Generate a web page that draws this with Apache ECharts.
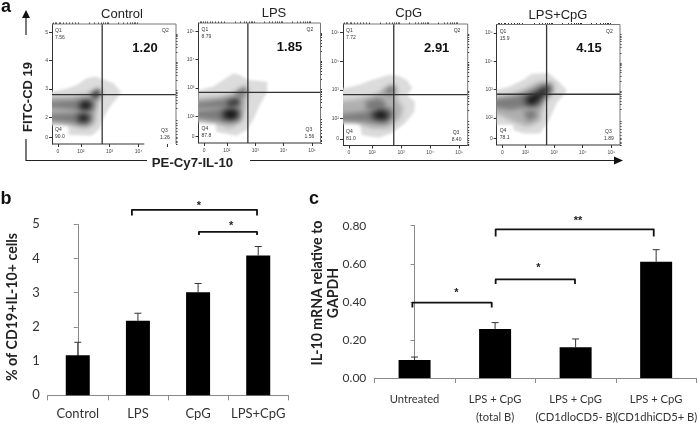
<!DOCTYPE html>
<html><head><meta charset="utf-8">
<style>html,body{margin:0;padding:0;background:#fff}#c{width:700px;height:426px}</style>
<script src="https://cdn.jsdelivr.net/npm/echarts@6/dist/echarts.min.js"></script>
</head><body><div id="c"></div>
<script>
// ---------- panel a: flow plots (log-decade coordinates) ----------
const flowNames = ['Control','LPS','CpG','LPS+CpG'];
const flowQ2 = ['1.20','1.85','2.91','4.15'];
const flowQ1 = ['7.56','8.79','7.72','15.9'];
const flowQ3 = ['1.26','1.56','8.40','1.89'];
const flowQ4 = ['90.0','87.8','81.0','78.1'];
const gateX = [2.74,2.74,2.75,2.74];
const gateY = [2.80,2.84,2.83,2.84];
const xTickPos = [1.2,2,3,4,5];
const yTickPos = [1.28,2,3,4,5];
const xTickText = [
  ['0','10²','10³','10⁴',''],
  ['0','10²','10³','10⁴','10⁵'],
  ['0','10²','10³','10⁴','10⁵'],
  ['0','10²','10³','10⁴','10⁵']];
const yTickText = [
  ['0','2','3','4','5'],
  ['0','10²','10³','10⁴','10⁵'],
  ['0','10²','10³','10⁴','10⁵'],
  ['0','10²','10³','10⁴','10⁵']];
const minorTicks = [1.05,1.1,1.15,1.25,1.3,1.4,1.5,1.6,1.7,1.8,1.9,2.3,2.48,2.6,2.7,2.78,2.85,2.9,2.95,3.3,3.48,3.6,3.7,3.78,3.85,3.9,3.95,4.3,4.48,4.6,4.7,4.78,4.85,4.9,4.95];

const controlOuter = [[0.8,2.85],[1.45,3.0],[1.86,3.14],[2.2,3.38],[2.49,3.44],[2.84,3.32],[3.13,3.2],[3.4,2.88],[3.25,2.67],[3.01,2.37],[2.78,1.96],[2.67,1.6],[2.38,1.34],[1.57,1.37],[1.57,1.72],[0.8,1.72]];
const controlMid = [[0.8,2.73],[1.68,2.73],[2.26,2.85],[2.61,3.02],[2.72,2.85],[2.55,2.31],[2.49,1.78],[2.15,1.58],[1.57,1.75],[0.8,1.84]];
const controlBandA = [[0.8,2.55],[1.91,2.61],[2.44,2.61],[2.44,2.25],[1.91,2.25],[0.8,2.37]];
const controlBandB = [[0.8,2.1],[1.91,2.16],[2.38,2.1],[2.32,1.78],[1.91,1.78],[0.8,1.9]];
const controlTail = [[2.32,2.81],[2.61,3],[2.7,2.85],[2.49,2.61]];
const controlCoreA = [[1.97,2.53],[2.26,2.59],[2.4,2.43],[2.26,2.25],[1.97,2.29]];
const controlCoreB = [[1.91,2.08],[2.2,2.1],[2.32,1.96],[2.15,1.82],[1.91,1.86]];

const lpsOuter = [[0.8,2.87],[1.52,3.05],[1.87,3.28],[2.23,3.52],[2.46,3.46],[2.75,3.28],[3.42,3.22],[3.42,2.85],[3.16,2.4],[2.93,1.87],[2.7,1.51],[2.34,1.31],[1.62,1.45],[1.62,1.78],[0.8,1.78]];
const lpsMid = [[0.8,2.63],[1.76,2.69],[2.23,2.81],[2.64,3.05],[2.72,2.87],[2.64,2.28],[2.52,1.81],[2.11,1.57],[1.62,1.75],[0.8,1.87]];
const lpsBandA = [[0.8,2.46],[1.76,2.58],[2.46,2.69],[2.46,2.34],[1.76,2.3],[0.8,2.28]];
const lpsBandB = [[0.8,2.16],[1.87,2.28],[2.46,2.28],[2.46,1.87],[1.87,1.81],[0.8,1.95]];
const lpsTail = [[2.28,2.81],[2.64,3.05],[2.72,2.87],[2.46,2.63]];
const lpsCoreA = [[2,2.54],[2.4,2.63],[2.44,2.4],[2.05,2.34]];
const lpsCoreB = [[1.87,2.18],[2.23,2.26],[2.44,2.1],[2.28,1.87],[1.87,1.92]];

const cpgOuter = [[0.8,2.99],[1.53,3.17],[1.99,3.34],[2.56,3.52],[2.85,3.52],[3.2,3.34],[3.39,3.05],[3.2,2.82],[3.48,2.58],[3.46,2.23],[3.14,1.83],[2.68,1.48],[2.22,1.32],[1.64,1.42],[1.59,1.83],[0.8,1.83]];
const cpgMid = [[0.8,2.58],[1.64,2.7],[2.1,2.82],[2.62,3.17],[2.85,3.11],[2.85,2.7],[3.08,2.35],[2.97,2],[2.56,1.65],[1.99,1.65],[1.41,1.88],[0.8,1.88]];
const cpgBandA = [[1.76,2.58],[2.22,2.72],[2.45,2.58],[2.45,2.29],[1.82,2.29]];
const cpgBandB = [[0.8,2.12],[1.76,2.23],[2.22,2.35],[2.68,2.35],[2.73,2.06],[2.45,1.83],[1.76,1.88],[0.8,1.94]];
const cpgTail = [[2.39,2.93],[2.68,3.14],[2.82,3.05],[2.68,2.82]];
const cpgCore = [[1.99,2.17],[2.33,2.29],[2.62,2.14],[2.45,1.94],[2.05,2]];

const bothOuter = [[0.8,2.94],[1.47,3.12],[1.93,3.35],[2.22,3.56],[2.8,3.59],[3.15,3.3],[3.46,2.96],[3.09,2.53],[2.8,1.88],[2.51,1.46],[1.93,1.46],[1.58,1.58],[1.58,1.76],[0.8,1.76]];
const bothMid = [[0.8,2.71],[1.47,2.82],[1.93,3],[2.51,3.3],[2.98,3.24],[2.98,2.94],[2.63,2.47],[2.51,1.88],[2.05,1.7],[1.58,1.88],[0.8,2.23]];
const bothLower = [[1.93,2.23],[2.34,2.29],[2.4,2.05],[2.1,1.88]];
const bothBand = [[0.8,2.65],[1.58,2.74],[2.05,2.88],[2.51,3.12],[2.86,3.18],[2.95,3],[2.63,2.7],[2.51,2.41],[1.93,2.37],[1.47,2.29],[0.8,2.41]];
const bothCore = [[1.99,2.7],[2.4,2.88],[2.74,3.12],[2.84,3],[2.51,2.7],[2.34,2.47],[2.05,2.49]];

// ---------- panel b ----------
const bCategories = ['Control','LPS','CpG','LPS+CpG'];
const bValues = [1.17,2.18,3.01,4.09];
const bErrorTops = [1.55,2.40,3.27,4.35];
const bBrackets = [[0.90,2.98,5.42,5.26],[2.015,2.98,4.78,4.69]];
const bStars = [[2.015,5.59,'*'],[2.55,5.01,'*']];

// ---------- panel c ----------
const cCategories = ['Untreated','LPS + CpG\n(total B)','LPS + CpG\n(CD1dloCD5- B)','LPS + CpG\n(CD1dhiCD5+ B)'];
const cValues = [0.095,0.258,0.162,0.611];
const cErrorTops = [0.11,0.291,0.205,0.674];
const cBrackets = [[-0.027,0.958,0.396,0.37],[1.007,1.992,0.518,0.494],[1.007,2.97,0.781,0.743]];
const cStars = [[0.518,0.458,'*'],[1.537,0.587,'*'],[2.03,0.835,'**']];

// ---------- layout ----------
const flowRects = [
  {left:52,top:24,width:124,height:120},
  {left:198.5,top:23,width:122,height:120},
  {left:343,top:24,width:124.7,height:121.5},
  {left:496.7,top:24.5,width:123.3,height:120.5}];
const X_RANGE=[1,5.3], Y_RANGE=[1.05,5.3];
const flowFrameEnd=[4.2,5.3,5.3,5.3];
const L0={fill:'#dcdcdc',blur:3}, L1={fill:'#b0b0b0',blur:5}, L2={fill:'#7c7c7c',blur:5}, L3={fill:'#0c0c0c',blur:6}, L4={fill:'#3c3c3c',blur:5};
const flowShapes = [
  [[controlOuter,L0],[controlMid,L1],[controlBandA,L2],[controlBandB,L2],[controlTail,L4],[controlCoreA,L3],[controlCoreB,L3]],
  [[lpsOuter,L0],[lpsMid,L1],[lpsBandA,L2],[lpsBandB,L2],[lpsTail,L2],[lpsCoreA,L4],[lpsCoreB,L3]],
  [[cpgOuter,L0],[cpgMid,L1],[cpgBandA,L2],[cpgBandB,L2],[cpgTail,L2],[cpgCore,L3]],
  [[bothOuter,L0],[bothMid,L1],[bothLower,L2],[bothBand,L2],[bothCore,L3]]];
const OFF=1500; // shapes are painted off-canvas so that only their soft shadow shows

const SANS='"Liberation Sans",Arial,sans-serif', LATO='Lato,sans-serif';
const grids=[],xAxes=[],yAxes=[],series=[],graphics=[];

flowRects.forEach((r,i)=>{
  grids.push(r);
  const tick={fontSize:5,color:'#444',fontFamily:SANS};
  const mk=(dim,range,pos,text,minors,lineOn)=>[{
    type:'value',gridIndex:i,min:range[0],max:range[1],splitLine:{show:false},
    axisLine:{show:lineOn,lineStyle:{color:'#333',width:1}},
    axisTick:{show:true,length:3,lineStyle:{color:'#333'},customValues:pos},
    axisLabel:Object.assign({show:true,margin:dim==='x'?5:4,customValues:pos,
      formatter:v=>text[pos.indexOf(v)]},tick)
  },{
    type:'value',gridIndex:i,min:range[0],max:range[1],splitLine:{show:false},
    axisLine:{show:false},axisLabel:{show:false},
    axisTick:{show:true,length:1.5,lineStyle:{color:'#333'},customValues:minors}
  }];
  const xa=mk('x',X_RANGE,xTickPos,xTickText[i],minorTicks.filter(v=>v<=flowFrameEnd[i]),false);
  const ya=mk('y',Y_RANGE,yTickPos,yTickText[i],minorTicks,true);
  xAxes.push(...xa); yAxes.push(...ya);
  series.push({
    type:'custom',coordinateSystem:'cartesian2d',xAxisIndex:xAxes.length-2,yAxisIndex:yAxes.length-2,
    silent:true,z:1,data:[[gateX[i],gateY[i]]],
    renderItem(params,api){
      const cs=params.coordSys;
      const polys=flowShapes[i].map(([pts,st])=>({
        type:'polygon',shape:{points:pts.map(p=>{const c=api.coord(p);return [c[0]-OFF,c[1]];})},
        style:{fill:'#000',shadowColor:st.fill,shadowBlur:st.blur,shadowOffsetX:OFF}
      }));
      const seg=(a,b,c,w)=>({type:'polyline',shape:{points:[api.coord(a),api.coord(b)]},style:{stroke:c,lineWidth:w,fill:null}});
      const g=[gateX[i],gateY[i]];
      return {type:'group',children:[
        {type:'group',clipPath:{type:'rect',shape:{x:cs.x,y:cs.y,width:cs.width,height:cs.height}},children:polys},
        seg([g[0],Y_RANGE[0]],[g[0],Y_RANGE[1]],'#333',1.3),
        seg([X_RANGE[0],g[1]],[X_RANGE[1],g[1]],'#333',1.3),
        seg([X_RANGE[0],Y_RANGE[0]],[flowFrameEnd[i],Y_RANGE[0]],'#333',1),
        {type:'polyline',shape:{points:[api.coord([X_RANGE[0],Y_RANGE[1]]),api.coord([X_RANGE[1],Y_RANGE[1]]),api.coord([X_RANGE[1],Y_RANGE[0]])]},style:{stroke:'#777',lineWidth:1,fill:null}}
      ]};
    }
  });
  const T=(x,y,text,style)=>graphics.push({type:'text',x,y,silent:true,style:Object.assign({text,fontFamily:SANS,fill:'#333',fontSize:5,align:'left',verticalAlign:'middle'},style||{})});
  const l=r.left,t=r.top,rt=r.left+r.width,b=r.top+r.height;
  T(l+3,t+7,'Q1'); T(l+3,t+14,flowQ1[i]);
  T(rt-14,t+7,'Q2'); T(rt-15,b-13,'Q3'); T(rt-16,b-6,flowQ3[i]);
  T(l+3,b-14,'Q4'); T(l+3,b-7,flowQ4[i]);
  T(rt-31,t+24,flowQ2[i],{fontSize:13,fontWeight:'bold',fill:'#111',align:'center'});
});
const titleX=[122,274,408.7,558], titleY=[14,13,13,15];
flowNames.forEach((n,i)=>graphics.push({type:'text',x:titleX[i],y:titleY[i],silent:true,style:{text:n,fontFamily:SANS,fontSize:13,fill:'#222',align:'center',verticalAlign:'middle'}}));

// axes decoration of panel a
const stroke={stroke:'#222',lineWidth:1.2,fill:null};
graphics.push(
 {type:'polyline',silent:true,shape:{points:[[26,35],[26,16]]},style:stroke},
 {type:'polygon',silent:true,shape:{points:[[26,10],[22,18],[30,18]]},style:{fill:'#111'}},
 {type:'polyline',silent:true,shape:{points:[[26,139],[26,160.5],[147,160.5]]},style:stroke},
 {type:'polyline',silent:true,shape:{points:[[250,160.5],[616,160.5]]},style:stroke},
 {type:'polygon',silent:true,shape:{points:[[623,160.5],[614,156.5],[614,164.5]]},style:{fill:'#111'}},
 {type:'text',silent:true,x:192.5,y:163.5,style:{text:'PE-Cy7-IL-10',fontFamily:SANS,fontWeight:'bold',fontSize:13.2,fill:'#222',align:'center',verticalAlign:'middle'}},
 {type:'text',silent:true,x:28,y:97,rotation:Math.PI/2,style:{text:'FITC-CD 19',fontFamily:SANS,fontWeight:'bold',fontSize:13,fill:'#222',align:'center',verticalAlign:'middle'}},
 {type:'text',silent:true,x:6,y:7,style:{text:'a',fontFamily:SANS,fontWeight:'bold',fontSize:18,fill:'#111',align:'center',verticalAlign:'middle'}},
 {type:'text',silent:true,x:6,y:199,style:{text:'b',fontFamily:SANS,fontWeight:'bold',fontSize:18,fill:'#111',align:'center',verticalAlign:'middle'}},
 {type:'text',silent:true,x:314,y:199,style:{text:'c',fontFamily:SANS,fontWeight:'bold',fontSize:18,fill:'#111',align:'center',verticalAlign:'middle'}},
 {type:'text',silent:true,x:12,y:307,rotation:Math.PI/2,style:{text:'% of CD19+IL-10+ cells',fontFamily:LATO,fontWeight:'bold',fontSize:14.2,fill:'#222',align:'center',verticalAlign:'middle'}},
 {type:'text',silent:true,x:325,y:293,rotation:Math.PI/2,style:{text:'IL-10 mRNA relative to\nGAPDH',fontFamily:LATO,fontWeight:'bold',fontSize:14.2,lineHeight:16,fill:'#222',align:'center',verticalAlign:'middle'}}
);

// ---------- bar panels ----------
function barPanel(rect,cats,vals,tops,brackets,stars,yMax,yInt,yFmt,barW,capW,catFont,catMargin,yFont){
  const gi=grids.length; grids.push(rect);
  const axisC={lineStyle:{color:'#8a8a8a',width:1}};
  const xi=xAxes.length;
  xAxes.push({type:'category',gridIndex:gi,data:cats,axisLine:{show:true,...axisC},
    axisTick:{show:true,length:5,...axisC},
    axisLabel:{fontFamily:LATO,fontSize:catFont,color:'#333',margin:catMargin,lineHeight:18,interval:0}});
  xAxes.push({type:'value',gridIndex:gi,min:-0.5,max:3.5,show:false,splitLine:{show:false}});
  const yi=yAxes.length;
  yAxes.push({type:'value',gridIndex:gi,min:0,max:yMax,interval:yInt,splitLine:{show:false},
    axisLine:{show:true,...axisC},axisTick:{show:true,length:4,...axisC},
    axisLabel:{fontFamily:LATO,fontSize:yFont,color:'#333',margin:8,formatter:yFmt}});
  series.push({type:'bar',xAxisIndex:xi,yAxisIndex:yi,data:vals,barWidth:barW,itemStyle:{color:'#000'},silent:true,z:3});
  series.push({type:'custom',coordinateSystem:'cartesian2d',xAxisIndex:xi,yAxisIndex:yi,silent:true,z:2,
    data:tops.map((t,i)=>[i,t,vals[i]]),
    renderItem(p,api){
      const a=api.coord([api.value(0),api.value(2)]),b=api.coord([api.value(0),api.value(1)]);
      const st={stroke:'#333',lineWidth:1,fill:null};
      return {type:'group',children:[
        {type:'line',shape:{x1:a[0],y1:a[1],x2:b[0],y2:b[1]},style:st},
        {type:'line',shape:{x1:b[0]-capW/2,y1:b[1],x2:b[0]+capW/2,y2:b[1]},style:st}]};
    }});
  series.push({type:'custom',coordinateSystem:'cartesian2d',xAxisIndex:xi+1,yAxisIndex:yi,silent:true,z:4,clip:false,
    data:brackets,
    renderItem(p,api){
      const x0=api.value(0),x1=api.value(1),t=api.value(2),l=api.value(3);
      return {type:'polyline',shape:{points:[api.coord([x0,l]),api.coord([x0,t]),api.coord([x1,t]),api.coord([x1,l])]},
        style:{stroke:'#111',lineWidth:1.8,fill:null,lineJoin:'round'}};
    }});
  series.push({type:'custom',coordinateSystem:'cartesian2d',xAxisIndex:xi+1,yAxisIndex:yi,silent:true,z:4,clip:false,
    data:stars,
    renderItem(p,api){
      const c=api.coord([api.value(0),api.value(1)]);
      return {type:'text',x:c[0],y:c[1]+2,style:{text:stars[p.dataIndex][2],fontFamily:SANS,fontSize:11,fontWeight:'bold',fill:'#222',align:'center',verticalAlign:'middle'}};
    }});
}
barPanel({left:47.7,top:224.3,width:240.6,height:171},bCategories,bValues,bErrorTops,bBrackets,bStars,5,1,v=>String(v),24,7,13,10,13);
barPanel({left:374.3,top:225.7,width:324.7,height:155},cCategories,cValues,cErrorTops,cBrackets,cStars,0.8,0.2,v=>v.toFixed(2),32,7,11.2,12,12);

const chart=echarts.init(document.getElementById('c'),null,{renderer:'canvas',width:700,height:426});
chart.setOption({animation:false,backgroundColor:'#fff',grid:grids,xAxis:xAxes,yAxis:yAxes,series,graphic:{elements:graphics}});
</script></body></html>
